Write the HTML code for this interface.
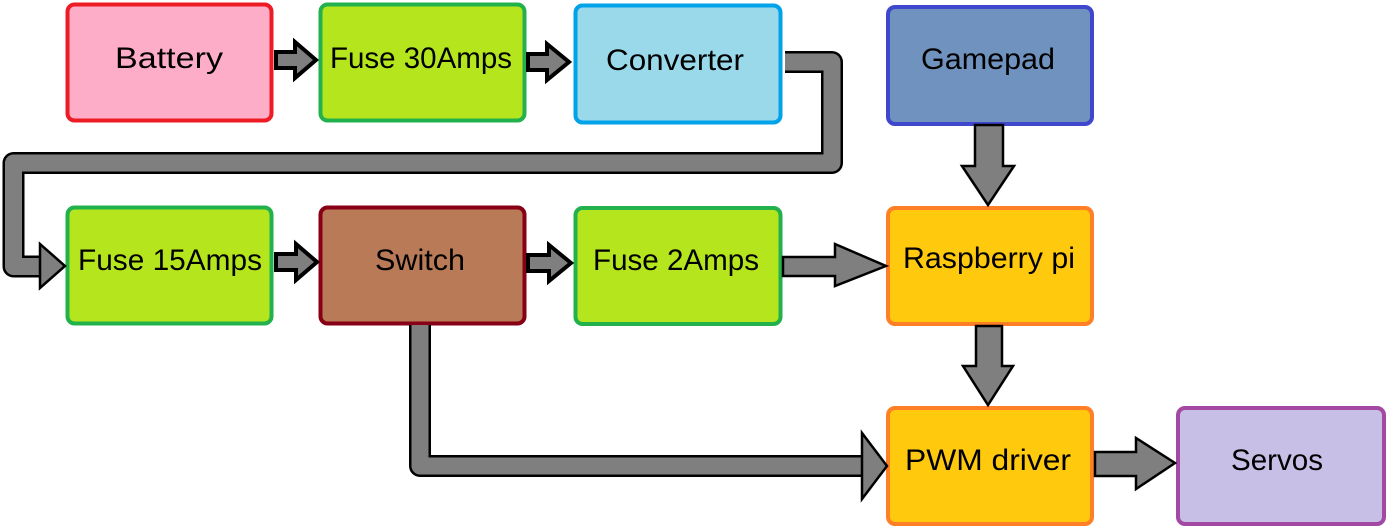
<!DOCTYPE html>
<html><head><meta charset="utf-8"><style>
body{margin:0;background:#fff;}
svg{display:block;}
text{font-family:"Liberation Sans",sans-serif;font-size:30px;fill:#000;text-anchor:middle;}
</style></head><body>
<svg width="1386" height="528" viewBox="0 0 1386 528" xmlns="http://www.w3.org/2000/svg">
<rect x="67.5" y="4.5" width="204" height="116" rx="7" fill="#fdadc8" stroke="#ed1c24" stroke-width="4"/>
<rect x="320.5" y="4.5" width="204" height="116" rx="7" fill="#b5e61d" stroke="#22b14c" stroke-width="4"/>
<rect x="575.5" y="5.5" width="205" height="117" rx="7" fill="#99d9ea" stroke="#00a2e8" stroke-width="4"/>
<rect x="888" y="7" width="204" height="117" rx="7" fill="#7092be" stroke="#3f48cc" stroke-width="4"/>
<rect x="67.5" y="207.5" width="204" height="116" rx="7" fill="#b5e61d" stroke="#22b14c" stroke-width="4"/>
<rect x="320.5" y="207.5" width="204" height="116" rx="7" fill="#b97a57" stroke="#880015" stroke-width="4"/>
<rect x="575.5" y="208" width="205" height="116" rx="7" fill="#b5e61d" stroke="#22b14c" stroke-width="4"/>
<rect x="888" y="208" width="204" height="116" rx="7" fill="#ffc90e" stroke="#ff7f27" stroke-width="4"/>
<rect x="888" y="408" width="204" height="116" rx="7" fill="#ffc90e" stroke="#ff7f27" stroke-width="4"/>
<rect x="1178" y="408" width="206" height="116" rx="7" fill="#c8bfe7" stroke="#a349a4" stroke-width="4"/>
<text x="169" y="68" textLength="108" lengthAdjust="spacingAndGlyphs">Battery</text>
<text x="421" y="68" textLength="182" lengthAdjust="spacingAndGlyphs">Fuse 30Amps</text>
<text x="675" y="70" textLength="138" lengthAdjust="spacingAndGlyphs">Converter</text>
<text x="988" y="69" textLength="134" lengthAdjust="spacingAndGlyphs">Gamepad</text>
<text x="170" y="270" textLength="184" lengthAdjust="spacingAndGlyphs">Fuse 15Amps</text>
<text x="420" y="270" textLength="90" lengthAdjust="spacingAndGlyphs">Switch</text>
<text x="676" y="270" textLength="166" lengthAdjust="spacingAndGlyphs">Fuse 2Amps</text>
<text x="989" y="268" textLength="172" lengthAdjust="spacingAndGlyphs">Raspberry pi</text>
<text x="988" y="470" textLength="166" lengthAdjust="spacingAndGlyphs">PWM driver</text>
<text x="1277" y="470" textLength="92" lengthAdjust="spacingAndGlyphs">Servos</text>
<g fill="#7f7f7f" stroke="#000" stroke-width="4" stroke-linejoin="miter">
<polygon points="276,52 295,52 295,42 316,60 295,78 295,68 276,68"/>
<polygon points="528,54 547,54 547,44 569,62 547,80 547,70 528,70"/>
<polygon points="276,254 296,254 296,244 317,262 296,280 296,270 276,270"/>
<polygon points="528,255 549,255 549,245 571,263 549,281 549,271 528,271"/>
</g>
<g fill="none" stroke-linejoin="round">
<polyline points="785,62 832,62 832,163 13.5,163 13.5,266.5 45,266.5" stroke="#000" stroke-width="22"/>
<polyline points="785,62 832,62 832,163 13.5,163 13.5,266.5 45,266.5" stroke="#7f7f7f" stroke-width="17"/>
<polyline points="420,325 420,466 865,466" stroke="#000" stroke-width="22"/>
<polyline points="420,325 420,466 865,466" stroke="#7f7f7f" stroke-width="17"/>
</g>
<g fill="#7f7f7f" stroke="#000" stroke-width="2.5" stroke-linejoin="miter">
<polygon points="40,256 40,244 65,266 40,288 40,277"/>
<polygon points="862,455 862,433 887,466 862,499 862,477"/>
<polygon points="783,257 835,257 835,244 886,266 835,286 835,276 783,276"/>
<polygon points="975,125 1003,125 1003,166 1014,166 988,205 962,166 975,166"/>
<polygon points="976,326 1002,326 1002,366 1013,366 988,405 963,366 976,366"/>
<polygon points="1095,452 1136,452 1136,438 1175,463 1136,489 1136,476 1095,476"/>
</g>
</svg>
</body></html>
